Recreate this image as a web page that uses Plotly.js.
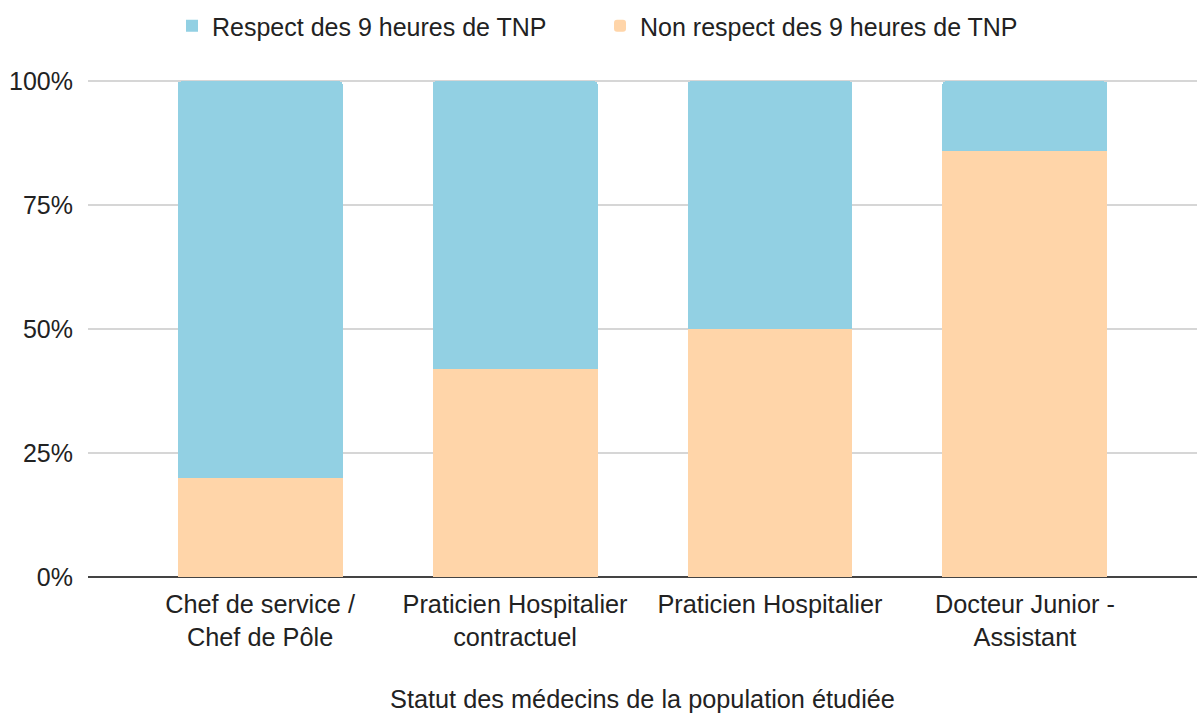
<!DOCTYPE html>
<html>
<head>
<meta charset="utf-8">
<script src="https://cdn.plot.ly/plotly-3.0.1.min.js"></script>
<style>html,body{margin:0;padding:0;background:#fff;}#chart{width:1197px;height:715px;}</style>
</head>
<body>
<div id="chart"></div>
<script>
var categories = ["Chef de service /<br>Chef de Pôle", "Praticien Hospitalier<br>contractuel", "Praticien Hospitalier", "Docteur Junior -<br>Assistant"];
var nonRespect = [20, 42, 50, 86];
var respect = [80, 58, 50, 14];
var seriesNames = ["Non respect des 9 heures de TNP", "Respect des 9 heures de TNP"];
var yTickVals = [0, 25, 50, 75, 100];
var yTickText = ["0%", "25%", "50%", "75%", "100%"];
var xTitle = "Statut des médecins de la population étudiée";

var FONT = "Liberation Sans, Arial, sans-serif";
var traces = [
  {type: "bar", name: seriesNames[0], x: categories, y: nonRespect,
   marker: {color: "#ffd5a9", cornerradius: 3}, hoverinfo: "y+name"},
  {type: "bar", name: seriesNames[1], x: categories, y: respect,
   marker: {color: "#92d0e3"}, hoverinfo: "y+name"}
];
var layout = {
  width: 1197, height: 715,
  margin: {l: 88, r: 0, t: 80, b: 138},
  barmode: "stack",
  bargap: 0.353,
  paper_bgcolor: "#fff", plot_bgcolor: "#fff",
  font: {family: FONT, size: 25, color: "#222"},
  showlegend: true,
  legend: {orientation: "h", traceorder: "reversed", xref: "container", yref: "container",
           x: 0.1437, xanchor: "left", y: 0.9958, yanchor: "top", entrywidth: 383,
           font: {family: FONT, size: 25, color: "#222"}},
  xaxis: {type: "category", range: [-0.675, 3.675], showgrid: false, showline: false,
          ticks: "", ticklabelstandoff: 10, tickfont: {family: FONT, size: 25.3, color: "#222"},
          title: {text: xTitle, font: {family: FONT, size: 25.3, color: "#222"}, standoff: 40},
          fixedrange: true},
  yaxis: {range: [0, 100.3], tickvals: yTickVals, ticktext: yTickText, showgrid: true,
          gridcolor: "#d6d6d6", gridwidth: 2, zeroline: true, zerolinecolor: "#444", zerolinewidth: 2,
          ticks: "", ticklabelstandoff: 14, tickfont: {family: FONT, size: 25, color: "#222"},
          fixedrange: true}
};
Plotly.newPlot("chart", traces, layout, {displayModeBar: false, staticPlot: true});
</script>
</body>
</html>
